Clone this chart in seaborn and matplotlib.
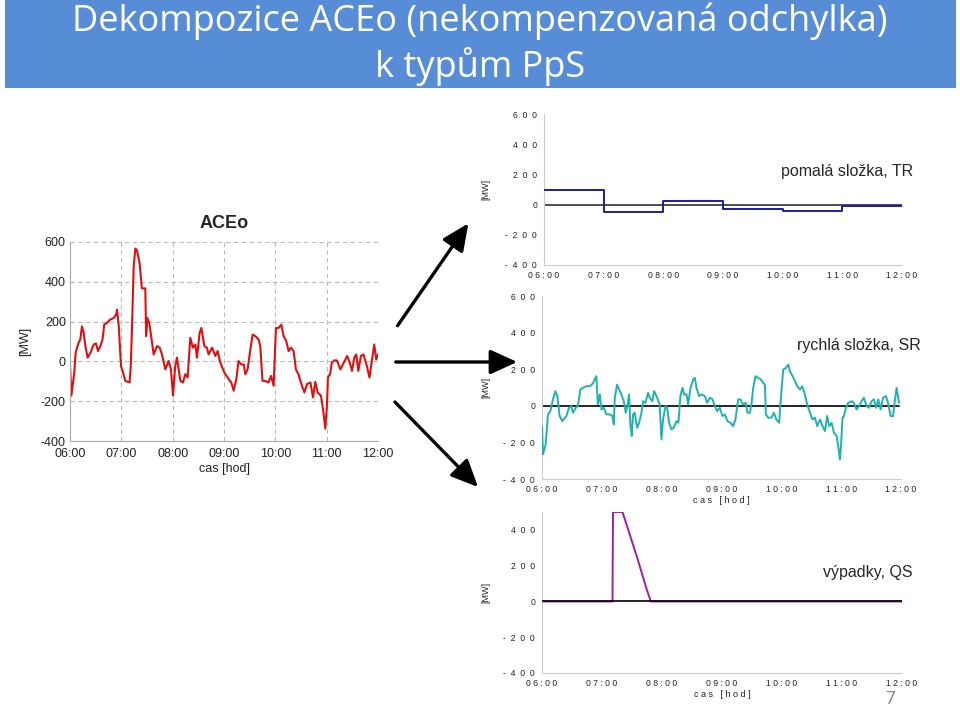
import matplotlib
matplotlib.use("Agg")
import matplotlib.pyplot as plt
import seaborn as sns
import pandas as pd
from matplotlib.patches import Rectangle, FancyArrowPatch

# ---------------- data ----------------
# time in minutes after 06:00
aceo_t = [0, 1.6, 5, 6.6, 10, 12, 14, 16, 18, 20.6, 24, 27.7, 30.4, 32.7, 35.5, 38, 40, 43, 47, 51,
          53.8, 55, 57, 59.6, 62, 64.7, 69.7, 71, 72.5, 74.4, 76.4, 78.3, 81.4, 84, 88, 89, 90.4, 92.7,
          96, 97.8, 101.7, 104.8, 107.5, 111.4, 115.3, 118, 120.4, 123, 125, 129, 132, 134.8, 137.5,
          140.6, 143.7, 146.5, 148.4, 151.5, 153.5, 157, 160, 162, 166, 170, 172.6, 175.7, 180.4,
          185.4, 188.5, 191.3, 194.4, 197, 200, 203, 205, 207.6, 210.8, 213.5, 216.6, 220.5, 222.4,
          225, 228, 232, 235, 238, 240.7, 243.9, 247, 249.7, 252.8, 255.5, 258.3, 261.4, 264, 267,
          271, 274, 277, 281, 284, 286.7, 289.4, 293.3, 295.7, 298.4, 300.3, 301.5, 304, 306, 309,
          312, 316, 320, 324, 327, 329.6, 332.3, 334.6, 337, 340, 343, 347, 350, 353, 355.6, 358, 360]
aceo_v = [-15, -172, -56, 44, 93, 110, 176, 143, 77, 19, 44, 85, 90, 52, 77, 110, 185, 193, 210, 218,
          235, 260, 176, -23, -56, -98, -106, -23, 176, 475, 567, 558, 492, 367, 367, 127, 218, 193,
          93, 35, 77, 69, 35, -40, 2, -40, -172, -23, 19, -98, -106, -64, -81,
          118, 69, 85, 19, 143, 168, 77, 69, 35, 69, 27, 52, -6, -56,
          -89, -106, -147, -89, 2, -15, -15, -64, -40, 60, 135, 127, 110, 77,
          -98, -98, -106, -73, -122, 168, 168, 185, 127, 102, 52, 69, 52, -40, -64,
          -122, -156, -114, -106, -181, -103, -156, -172, -239, -338, -222, -81, -64, -6, 5,
          5, -40, -6, 27, -6, -48, 19, 35, -48, 27, 35, -23, -81, 10, 85, 10, 35]

tr_hours = [0, 60, 120, 180, 240, 300, 360]
tr_v = [97, -51, 22, -26, -42, -11, -11]

sr_t = [0, 1, 3.7, 6, 8.4, 11, 13.4, 15.4, 17.7, 20.4, 24.4, 27, 29.4, 31, 33.8, 36, 38.5, 41, 44.5, 48,
        51, 54.5, 56, 58, 59.6, 62, 64.6, 68, 70.6, 72, 73, 75.3, 77.3, 79.6, 82, 84, 85.6, 87.3, 88.7,
        90, 91.3, 93, 95.3, 97.4, 99.7, 101.4, 103.7, 106.4, 108, 110.7, 112.4, 114.8, 118, 119.8,
        121.4, 123.8, 125.5, 127.5, 129.8, 132, 134.8, 136.8, 138.8, 140.9, 142.5, 144.9, 146.5,
        148.9, 151.6, 153.2, 154.9, 157.6, 159.9, 163.3, 165.6, 168.3, 171, 173.3, 175.6, 178.3, 181,
        183.3, 186, 189, 191.7, 194, 196.7, 199, 201.7, 204.4, 206, 208.4, 210, 211.8, 214, 216.8,
        219.5, 221.8, 223.5, 224.5, 226.8, 230, 232.5, 235, 237.9, 239, 241.9, 244.6, 247, 248.6,
        251.3, 253.6, 256, 258.6, 261, 263.6, 266, 268.7, 271.3, 273.7, 276, 278.7, 281.4, 283.7,
        286, 288, 290.4, 292.7, 295.4, 297, 298.8, 299.8, 301.4, 302.8, 304.8, 307, 310.5, 312.8,
        315.5, 318, 320.5, 322.8, 325.5, 327.9, 330.5, 332.9, 335, 337.2, 339.6, 342, 344.9, 347,
        349.6, 352, 354, 355.6, 358]
sr_v = [-111, -265, -211, -47, -29, 35, 80, 53, -56, -84, -56, -11, -2, -38, -11, -2, 89, 98, 107, 107,
        122, 162, 7, 62, -20, -11, -47, -47, -56, -102, 44, 116, 89, 62, 25, -38, -2, 62, -111,
        -165, -47, -38, -120, -93, -38, 25, 16, 71, 44, 25, 80, 53, 7, -184,
        -75, -2, -11, -93, -129, -120, -84, -93, 53, 98, 62, 62, 7,
        98, 144, 153, 98, 53, 62, 53, 16, 44, 35, -2, -29, -11, -56,
        -47, -84, -93, -111, -75, 35, 35, 7, 16, -38, -38, 7, 98, 162, 153,
        144, 125, 116, -47, -65, -65, -38, -75, -93, 7, 198, 207, 225, 189,
        162, 135, 107, 89, 107, 62, 7, -38, -75, -65, -111, -75, -111, -138,
        -56, -111, -93, -147, -165, -220, -293, -220, -65, -56, -11, 16, 25, 16,
        -20, -2, 25, 44, -2, -11, 25, 35, -11, 35, -20, 44, 53, 16,
        -56, -56, 35, 98, 16]

qs_t = [0, 70.5, 71, 80.5, 88, 96, 104, 108.8, 360]
qs_v = [0, 0, 500, 500, 370, 230, 80, 0, 0]

x_ticks = [0, 60, 120, 180, 240, 300, 360]
left_xlabels = ["06:00", "07:00", "08:00", "09:00", "10:00", "11:00", "12:00"]
left_yticks = [-400, -200, 0, 200, 400, 600]
left_ylabels = ["-400", "-200", "0", "200", "400", "600"]
right_xlabels = ["0 6 : 0 0", "0 7 : 0 0", "0 8 : 0 0", "0 9 : 0 0", "1 0 : 0 0", "1 1 : 0 0", "1 2 : 0 0"]
right_yticks = [-400, -200, 0, 200, 400, 600]
right_ylabels = ["-  4  0  0", "-  2  0  0", "0", "2  0  0", "4  0  0", "6  0  0"]
qs_yticks = [-400, -200, 0, 200, 400]
qs_ylabels = ["-  4  0  0", "-  2  0  0", "0", "2  0  0", "4  0  0"]

# ---------------- style ----------------
sns.set_style("white")
plt.rcParams["font.family"] = ["Liberation Sans", "DejaVu Sans"]

W, H = 960, 706
fig = plt.figure(figsize=(9.6, 7.06), dpi=100)


def fx(x):
    return x / W


def fy(y):
    return 1 - y / H


def axes_px(x0, x1, ytop, ybot):
    return fig.add_axes([fx(x0), fy(ybot), (x1 - x0) / W, (ybot - ytop) / H])


# title bar
fig.add_artist(Rectangle((fx(5), fy(88)), 951 / W, 88 / H, transform=fig.transFigure,
                         facecolor="#578dd6", edgecolor="none", zorder=0))
fig.text(0.5, fy(31), "Dekompozice ACEo (nekompenzovaná odchylka)", color="white",
         fontsize=26, family=["Open Sans", "DejaVu Sans"], ha="center", va="baseline")
fig.text(0.5, fy(77), "k typům PpS", color="white",
         fontsize=26, family=["Open Sans", "DejaVu Sans"], ha="center", va="baseline")

# ---------------- left chart: ACEo ----------------
ax0 = axes_px(70, 378, 242, 441)
df0 = pd.DataFrame({"t": aceo_t, "v": aceo_v})
sns.lineplot(data=df0, x="t", y="v", ax=ax0, color="#e01010", linewidth=1.5, sort=False)
ax0.set_xlim(0, 360)
ax0.set_ylim(-400, 600)
ax0.set_xticks(x_ticks)
ax0.set_xticklabels(left_xlabels)
ax0.set_yticks(left_yticks)
ax0.set_yticklabels(left_ylabels)
ax0.tick_params(labelsize=9, length=0, pad=3, labelcolor="#222222")
ax0.tick_params(axis="x", pad=5)
ax0.grid(True, linestyle=(0, (4, 3)), color="#bbbbbb", linewidth=0.8)
for s in ["top", "right"]:
    ax0.spines[s].set_visible(False)
for s in ["left", "bottom"]:
    ax0.spines[s].set_color("#aaaaaa")
    ax0.spines[s].set_linewidth(0.8)
ax0.set_xlabel("cas [hod]", fontsize=9, labelpad=2, color="#222222")
ax0.set_ylabel("[MW]", fontsize=9, labelpad=7, color="#222222")
ax0.set_title("ACEo", fontsize=13, fontweight="bold", pad=10)


def style_right(ax, yticks, ylabels, show_xlabel, ylim, label_x):
    ax.set_xlim(0, 360)
    ax.set_ylim(*ylim)
    ax.set_xticks(x_ticks)
    ax.set_xticklabels(right_xlabels)
    ax.set_yticks(yticks)
    ax.set_yticklabels(ylabels)
    ax.tick_params(labelsize=6.2, length=3, width=0.6, color="#bbbbbb", pad=2, labelcolor="#222222")
    ax.tick_params(axis="x", direction="in", pad=4)
    for s in ["top", "right"]:
        ax.spines[s].set_visible(False)
    for s in ["left", "bottom"]:
        ax.spines[s].set_color("#cccccc")
        ax.spines[s].set_linewidth(0.8)
    ax.set_ylabel("[MW]", fontsize=6.5, color="#222222")
    ax.yaxis.set_label_coords(label_x, 0.5)
    if show_xlabel:
        ax.set_xlabel("c a s   [ h o d ]", fontsize=6.5, labelpad=1.5, color="#222222")
    else:
        ax.set_xlabel("")


# ---------------- top right: TR ----------------
ax1 = axes_px(544, 902, 114, 265)
df1 = pd.DataFrame({"t": tr_hours, "v": tr_v})
sns.lineplot(data=df1, x="t", y="v", ax=ax1, color="#1c1ca6", linewidth=1.4,
             drawstyle="steps-post", zorder=3)
ax1.axhline(0, color="#404040", linewidth=1.3, zorder=2)
style_right(ax1, right_yticks, right_ylabels, False, (-400, 600), -0.151)
ax1.text(1.031, 0.616, "pomalá složka, TR", transform=ax1.transAxes, ha="right", va="center",
         fontsize=11.5)

# ---------------- middle right: SR ----------------
ax2 = axes_px(542, 901, 296, 479)
df2 = pd.DataFrame({"t": sr_t, "v": sr_v})
sns.lineplot(data=df2, x="t", y="v", ax=ax2, color="#1fb3ad", linewidth=1.4, sort=False, zorder=3)
ax2.axhline(0, xmax=358 / 360, color="black", linewidth=1.2, zorder=2)
style_right(ax2, right_yticks, right_ylabels, True, (-400, 600), -0.145)
ax2.text(1.056, 0.727, "rychlá složka, SR", transform=ax2.transAxes, ha="right", va="center",
         fontsize=11.5)

# ---------------- bottom right: QS ----------------
ax3 = axes_px(542, 902, 512, 673)
df3 = pd.DataFrame({"t": qs_t, "v": qs_v})
sns.lineplot(data=df3, x="t", y="v", ax=ax3, color="#a21caf", linewidth=1.4, sort=False, zorder=2)
ax3.axhline(0, color="black", linewidth=1.2, zorder=3)
style_right(ax3, qs_yticks, qs_ylabels, True, (-400, 500), -0.144)
ax3.text(1.03, 0.627, "výpadky, QS", transform=ax3.transAxes, ha="right", va="center",
         fontsize=11.5)

# ---------------- arrows ----------------
arrow_kw = dict(transform=fig.transFigure, arrowstyle="-|>,head_length=1.1,head_width=0.5",
                mutation_scale=15, linewidth=2.4, color="black")
for (x0, y0), (x1, y1) in [((396, 328), (470, 221)),
                           ((393, 362), (520, 362)),
                           ((393, 400), (480, 489))]:
    fig.add_artist(FancyArrowPatch((fx(x0), fy(y0)), (fx(x1), fy(y1)), **arrow_kw))

# page number
fig.text(fx(890), fy(699), "7", color="#888888", fontsize=12, family=["Lato", "DejaVu Sans"],
         ha="center", va="center")

fig.savefig("out.png", dpi=100)
